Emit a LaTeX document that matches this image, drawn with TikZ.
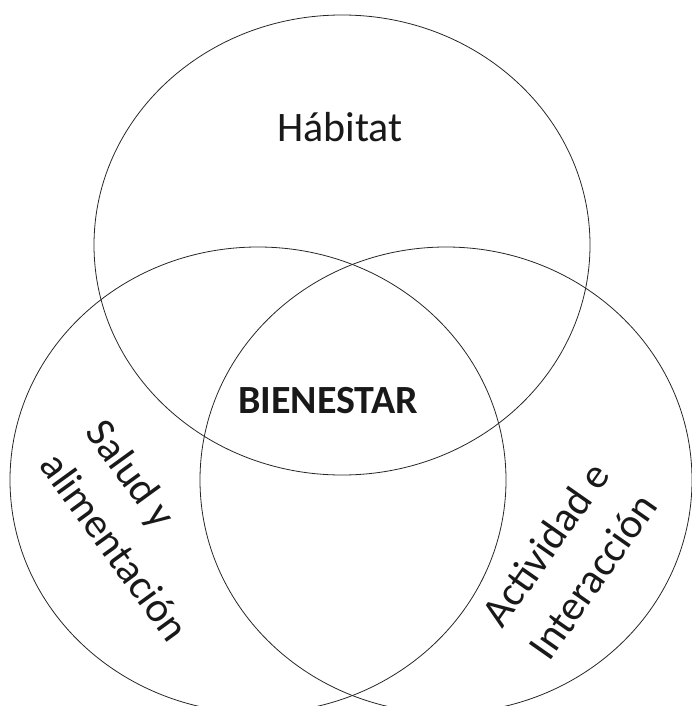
\documentclass[tikz,border=0pt]{standalone}
\usepackage{fontspec}
\setmainfont{Carlito}
\begin{document}
\begin{tikzpicture}[x=1pt, y=-1pt,
  ring/.style={draw=black!85, line width=0.8pt},
  txt/.style={font=\fontsize{42}{57}\selectfont, text=black!90, align=left, inner sep=0pt}]
  \useasboundingbox (0,0) rectangle (692,706);
  % the three sets
  \draw[ring] (342,245) ellipse [x radius=248, y radius=230];
  \draw[ring] (258,480) ellipse [x radius=248, y radius=233];
  \draw[ring] (446,480) ellipse [x radius=246, y radius=233];
  % texts
  \node[txt, anchor=base] (habitat) at (340,141) {Hábitat};
  \node[txt, anchor=base, font=\fontsize{40}{54}\selectfont\bfseries] (bienestar) at (328,413) {BIENESTAR};
  \node[txt, rotate=-54] (salud) at (138,530) {Salud y\\alimentación};
  \node[txt, rotate=55] (actividad) at (569,560) {Actividad e\\Interacción};
\end{tikzpicture}
\end{document}
